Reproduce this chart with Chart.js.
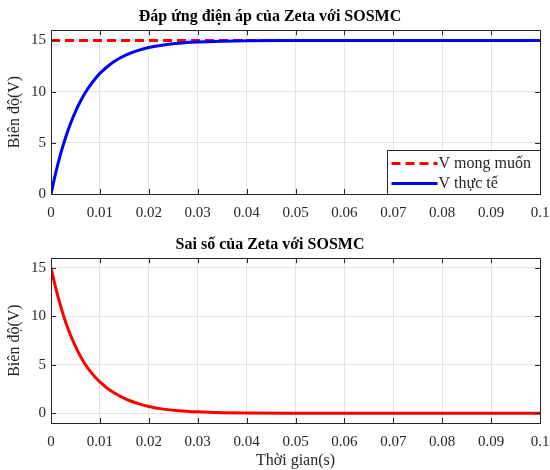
<!DOCTYPE html>
<html>
<head>
<meta charset="utf-8">
<script src="https://cdn.jsdelivr.net/npm/chart.js@4/dist/chart.umd.min.js"></script>
<style>
    body { margin: 0; background: #fff; }
    .panel { position: absolute; left: 0; width: 550px; }
    #grafSuperior { top: 0; height: 228px; }
    #grafInferior { top: 228px; height: 242px; }
</style>
</head>
<body>
<div class="panel" id="grafSuperior"><canvas id="chartVoltaje"></canvas></div>
<div class="panel" id="grafInferior"><canvas id="chartError"></canvas></div>
<script>
// tiempo de simulación (s)
const tiempo = [0, 0.001, 0.002, 0.003, 0.004, 0.005, 0.006, 0.007, 0.008, 0.009, 0.01,
    0.012, 0.014, 0.016, 0.018, 0.02, 0.023, 0.026, 0.03, 0.035, 0.04, 0.05,
    0.06, 0.07, 0.08, 0.09, 0.1];
// tensión real de salida
const vThucTe = [0, 2.14, 3.97, 5.55, 6.89, 8.05, 9.04, 9.89, 10.62, 11.24, 11.78,
    12.63, 13.26, 13.72, 14.06, 14.31, 14.56, 14.73, 14.85, 14.93, 14.97, 14.99,
    15, 15, 15, 15, 15];
// error de seguimiento
const saiSo = [15, 12.85, 11.0, 9.4, 8.05, 6.9, 5.9, 5.05, 4.35, 3.75, 3.25,
    2.4, 1.8, 1.32, 0.97, 0.7, 0.43, 0.27, 0.15, 0.07, 0.03, 0.01,
    0, 0, 0, 0, 0];
// referencia
const tMongMuon = [0, 0.1];
const vMongMuon = [15, 15];

const xTicks = [0, 0.01, 0.02, 0.03, 0.04, 0.05, 0.06, 0.07, 0.08, 0.09, 0.1];
const yTicks = [0, 5, 10, 15];

const FUENTE = '"Liberation Serif", "Times New Roman", serif';
const TEXTO = '#262626';
const REJILLA = '#e3e3e3';

function puntos(xs, ys) {
    return xs.map((x, i) => ({ x: x, y: ys[i] }));
}

// marco negro con marcas hacia dentro, como en MATLAB
const marco = {
    id: 'marco',
    afterDatasetsDraw(chart) {
        const { ctx, chartArea: a, scales } = chart;
        const tl = 5;
        ctx.save();
        ctx.strokeStyle = TEXTO;
        ctx.lineWidth = 1;
        ctx.beginPath();
        xTicks.forEach(v => {
            const px = Math.round(scales.x.getPixelForValue(v)) + 0.5;
            ctx.moveTo(px, a.bottom); ctx.lineTo(px, a.bottom - tl);
            ctx.moveTo(px, a.top); ctx.lineTo(px, a.top + tl);
        });
        yTicks.forEach(v => {
            const py = Math.round(scales.y.getPixelForValue(v)) + 0.5;
            ctx.moveTo(a.left, py); ctx.lineTo(a.left + tl, py);
            ctx.moveTo(a.right, py); ctx.lineTo(a.right - tl, py);
        });
        ctx.stroke();
        ctx.strokeRect(Math.round(a.left) + 0.5, Math.round(a.top) + 0.5,
            Math.round(a.right - a.left), Math.round(a.bottom - a.top));
        ctx.restore();
    }
};

// leyenda dentro del área, esquina inferior derecha
const leyenda = {
    id: 'leyenda',
    afterDraw(chart, args, opts) {
        if (!opts.display) return;
        const { ctx, chartArea: a } = chart;
        const w = 153, h = 44;
        const x0 = Math.round(a.right - w) + 0.5, y0 = Math.round(a.bottom - h) + 0.5;
        ctx.save();
        ctx.fillStyle = '#fff';
        ctx.fillRect(x0, y0, w, h);
        ctx.strokeStyle = TEXTO;
        ctx.lineWidth = 1;
        ctx.strokeRect(x0, y0, w, h);
        ctx.font = '16px ' + FUENTE;
        ctx.textBaseline = 'middle';
        chart.data.datasets.forEach((ds, i) => {
            const y = y0 + 13 + i * 20;
            ctx.beginPath();
            ctx.strokeStyle = ds.borderColor;
            ctx.lineWidth = ds.borderWidth;
            ctx.setLineDash(ds.borderDash || []);
            ctx.moveTo(x0 + 4, y);
            ctx.lineTo(x0 + 50, y);
            ctx.stroke();
            ctx.setLineDash([]);
            ctx.fillStyle = TEXTO;
            ctx.fillText(ds.label, x0 + 51, y);
        });
        ctx.restore();
    }
};

function opciones(titulo, yMin, altoX, tituloX, conLeyenda) {
    return {
        responsive: true,
        maintainAspectRatio: false,
        animation: false,
        layout: { padding: { left: 0, right: 10, top: 0, bottom: 0 } },
        plugins: {
            legend: { display: false },
            tooltip: { enabled: false },
            leyenda: { display: conLeyenda },
            title: {
                display: true,
                text: titulo,
                color: '#000',
                font: { family: FUENTE, size: 16, weight: 'bold', lineHeight: 1.2 },
                padding: { top: 7, bottom: 4 }
            }
        },
        scales: {
            x: {
                type: 'linear',
                min: 0,
                max: 0.1,
                afterBuildTicks: s => { s.ticks = xTicks.map(v => ({ value: v })); },
                afterFit: s => {
                    s.height = altoX;
                    s.paddingLeft = 0;
                    s.paddingRight = 0;
                },
                ticks: {
                    color: TEXTO,
                    padding: 10,
                    maxRotation: 0,
                    font: { family: FUENTE, size: 15 },
                    callback: v => String(v)
                },
                grid: { color: REJILLA, drawTicks: false },
                border: { display: false },
                title: {
                    display: tituloX,
                    text: 'Thời gian(s)',
                    color: TEXTO,
                    font: { family: FUENTE, size: 16 },
                    padding: { top: 2, bottom: 0 }
                }
            },
            y: {
                min: yMin,
                max: 16,
                afterBuildTicks: s => { s.ticks = yTicks.map(v => ({ value: v })); },
                afterFit: s => { s.width = 51; },
                ticks: {
                    color: TEXTO,
                    padding: 5,
                    font: { family: FUENTE, size: 15 }
                },
                grid: { color: REJILLA, drawTicks: false },
                border: { display: false },
                title: {
                    display: true,
                    text: 'Biên độ(V)',
                    color: TEXTO,
                    font: { family: FUENTE, size: 16 },
                    padding: { top: 5, bottom: 0 }
                }
            }
        }
    };
}

function dibujar() {
    new Chart(document.getElementById('chartVoltaje'), {
        type: 'line',
        data: {
            datasets: [
                {
                    label: 'V mong muốn',
                    data: puntos(tMongMuon, vMongMuon),
                    borderColor: '#ff0000',
                    borderWidth: 3,
                    borderDash: [9, 5],
                    pointRadius: 0,
                    order: 1
                },
                {
                    label: 'V thực tế',
                    data: puntos(tiempo, vThucTe),
                    borderColor: '#0000ff',
                    borderWidth: 3,
                    pointRadius: 0,
                    cubicInterpolationMode: 'monotone',
                    order: 0
                }
            ]
        },
        options: opciones('Đáp ứng điện áp của Zeta với SOSMC', 0, 34, false, true),
        plugins: [marco, leyenda]
    });

    new Chart(document.getElementById('chartError'), {
        type: 'line',
        data: {
            datasets: [{
                label: 'Sai số',
                data: puntos(tiempo, saiSo),
                borderColor: '#ff0000',
                borderWidth: 3,
                pointRadius: 0,
                cubicInterpolationMode: 'monotone'
            }]
        },
        options: opciones('Sai số của Zeta với SOSMC', -1, 47, true, false),
        plugins: [marco, leyenda]
    });
}

document.addEventListener('DOMContentLoaded', dibujar);
</script>
</body>
</html>
